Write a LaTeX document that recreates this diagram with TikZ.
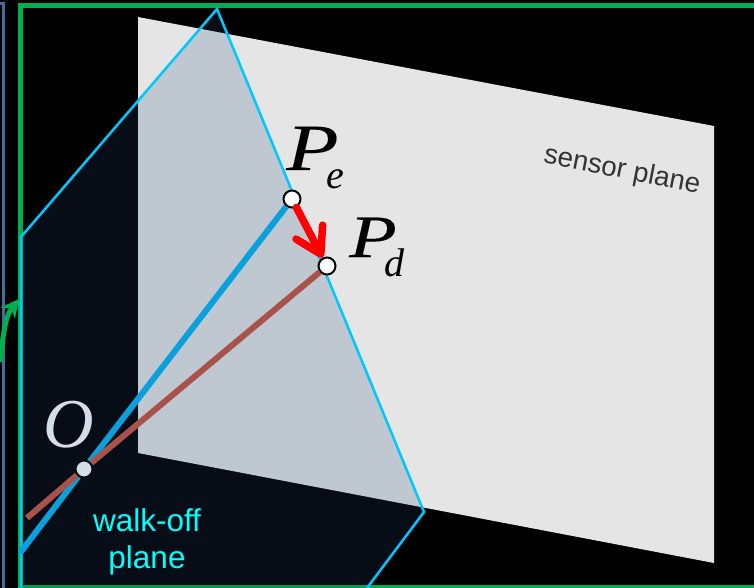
\documentclass[tikz,border=0pt]{standalone}
\usepackage{fontspec}
\usepackage{xcolor}
\usepackage{tikz}
\usetikzlibrary{positioning, arrows.meta}
\setmainfont{Liberation Serif}
\setsansfont{Liberation Sans}
\newfontfamily\widemath{Liberation Serif Italic}[FakeStretch=1.3,FakeBold=0.15]
\definecolor{framegreen}{HTML}{00B050}
\definecolor{edgeblue}{HTML}{3F6FA0}
\definecolor{sensorbg}{HTML}{E5E5E5}
\definecolor{walkbg}{HTML}{204A7E}
\definecolor{walkedge}{HTML}{00C8FF}
\definecolor{walktext}{HTML}{00FFFF}
\definecolor{rayblue}{HTML}{0AA0DC}
\definecolor{raybrown}{HTML}{A8524A}
\definecolor{originbg}{HTML}{D5DEE8}
\definecolor{origindark}{HTML}{060E18}
\newcommand{\pointname}[2]{{\fontsize{#1}{#1}\widemath P}\kern-12pt{\fontsize{40}{40}\selectfont\itshape\lower 19pt\hbox{#2}}}
\tikzset{
  point/.style={
    circle,
    draw=black,
    line width=2pt,
    fill=white,
    minimum size=17pt,
    inner sep=0pt
  },
  origin/.style={
    point,
    draw=origindark,
    fill=originbg
  },
  ray e/.style={draw=rayblue, line width=6pt},
  ray d/.style={draw=raybrown, line width=6pt},
  drift/.style={
    -{Straight Barb[length=25pt,width=30pt,round]},
    draw=red,
    line width=7.5pt,
    line cap=round
  },
  bigmath/.style={inner sep=0pt},
  plane label/.style={font=\sffamily\fontsize{31.5}{37}\selectfont, text=walktext, align=center}
}
\begin{document}
\begin{tikzpicture}[x=1pt, y=-1pt]
  \useasboundingbox (0,0) rectangle (754,588);
  \clip (0,0) rectangle (754,588);
  \fill[black] (0,0) rectangle (754,588);

  % outer frames
  \draw[edgeblue, line width=2.5pt] (-5,3.5) -- (3.5,3.5) -- (3.5,595);
  \draw[framegreen, line width=5pt] (20.5,6) rectangle (765,587.5);

  % planes
  \fill[sensorbg] (138,17) -- (714,126) -- (714,563) -- (138,453) -- cycle;
  \filldraw[fill=walkbg, fill opacity=.19, draw=walkedge, line width=2.5pt]
    (217,9) -- (424,512) -- (364,592) -- (21,592) -- (21,237) -- cycle;

  \node[point] (Pe) at (292,199) {};
  \node[point] (Pd) at (327,266) {};
  \node[origin] (O) at (84,469) {};
  \coordinate (blue end) at (20,553);
  \coordinate (brown end) at (27,518);
  \coordinate (feed start) at (0,362);
  \coordinate (feed end) at (19,299);

  \draw[ray e] (Pe) -- (O);
  \draw[ray e] (O) -- (blue end);
  \draw[ray d] (Pd) -- (O);
  \draw[ray d] (O) -- (brown end);
  \draw[drift] (Pe) -- (Pd);
  \draw[framegreen, line width=5pt, -{Stealth[length=18pt,width=18pt]}]
    (feed start) .. controls (3,340) and (4,318) .. (feed end);

  \node[bigmath, anchor=base west] (Pe label) at (286,170) {\pointname{66}{e}};
  \node[bigmath, anchor=base west] (Pd label) at (349,257) {\pointname{60}{d}};
  \node[bigmath, text=originbg, font=\fontsize{70}{70}\selectfont\itshape, anchor=base west] (O label) at (43,447) {O};

  \node[plane label] (walk label) at (147,542) {walk-off\\plane};
  \node[font=\sffamily\fontsize{27.7}{30}\selectfont, text=black!80, rotate=-11] (sensor label) at (622,171) {sensor plane};
\end{tikzpicture}
\end{document}
